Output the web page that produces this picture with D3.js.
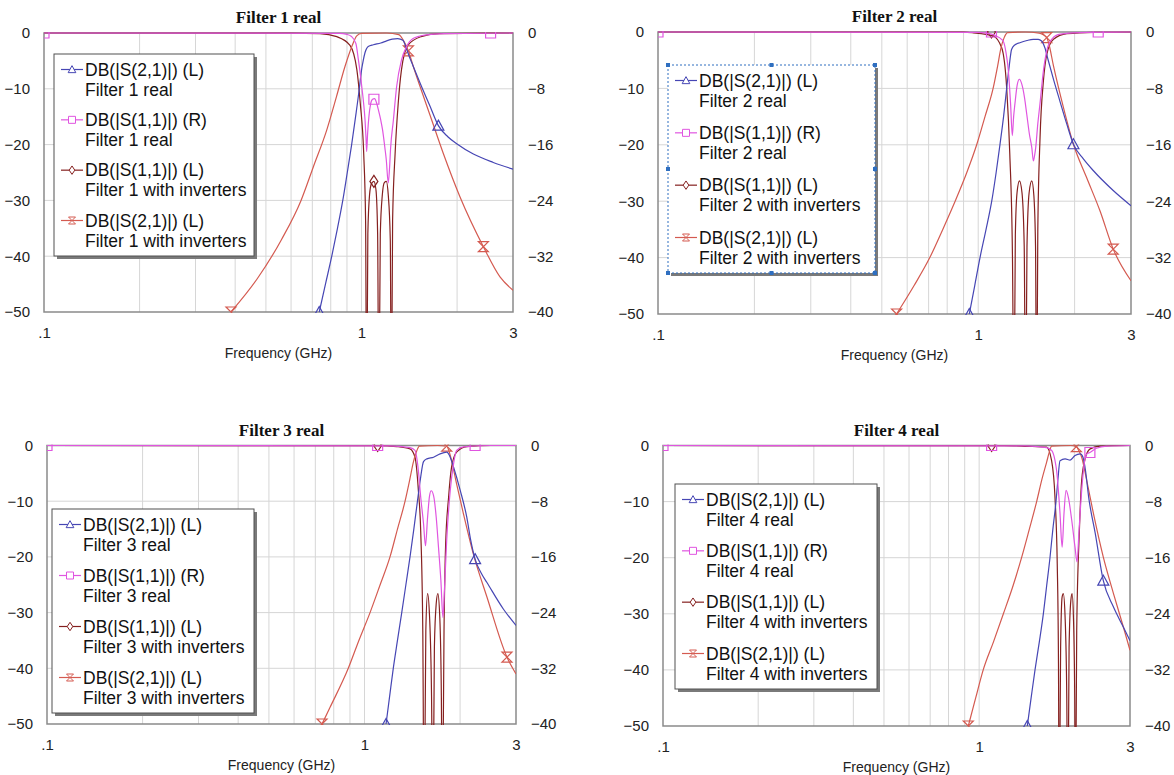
<!DOCTYPE html>
<html>
<head>
<meta charset="utf-8">
<script src="https://cdn.jsdelivr.net/npm/d3@7"></script>
<style>
  body { margin: 0; background: #fff; }
  svg { display: block; }
</style>
</head>
<body>
<svg id="chart" width="1174" height="775"></svg>
<script>
// axis ticks and labels
const xTickValues = [0.1, 1, 3];
const xTickLabels = [".1", "1", "3"];
const gridFreqs = [0.2, 0.3, 0.4, 0.5, 0.6, 0.7, 0.8, 0.9, 1, 2];
const yLeftTicks = [0, -10, -20, -30, -40, -50];
const yRightTicks = [0, -8, -16, -24, -32, -40];

const titles = ["Filter 1 real", "Filter 2 real", "Filter 3 real", "Filter 4 real"];
const legendMeasures = ["DB(|S(2,1)|) (L)", "DB(|S(1,1)|) (R)", "DB(|S(1,1)|) (L)", "DB(|S(2,1)|) (L)"];
const legendSources = ["real", "real", "with inverters", "with inverters"];

// ---- Filter 1 : [GHz, dB] ----
const f1S21Real = [[0.736,-50],[0.77,-45],[0.806,-40],[0.84,-35],[0.873,-30],[0.902,-25],[0.931,-20],[0.958,-15],[0.984,-10],[0.998,-7],[1.012,-5],[1.026,-3.5],[1.05,-2.4],[1.09,-2.1],[1.15,-1.8],[1.2,-1.4],[1.25,-1.1],[1.3,-1.0],[1.35,-1.3],[1.385,-2.8],[1.42,-4.5],[1.456,-6.0],[1.53,-9.0],[1.64,-13.0],[1.746,-16.6],[1.87,-18.6],[2.0,-19.9],[2.25,-21.7],[2.6,-23.2],[3.0,-24.4]];
const f1S11Real = [[0.1,0],[0.85,-0.05],[0.9,-0.2],[0.93,-0.5],[0.96,-1.5],[0.978,-3.9],[0.992,-6],[1.002,-7.7],[1.015,-10],[1.026,-12.5],[1.033,-15],[1.038,-17],[1.045,-14.5],[1.055,-12],[1.068,-10.2],[1.083,-9.5],[1.1,-9.4],[1.115,-10],[1.13,-11],[1.15,-12.5],[1.165,-13.9],[1.185,-16.5],[1.197,-18.2],[1.214,-21.5],[1.225,-19.5],[1.235,-16.5],[1.26,-12.5],[1.29,-7.7],[1.336,-3.9],[1.385,-2.0],[1.453,-0.8],[1.58,-0.3],[1.82,-0.1],[3.0,0]];
const f1S11Inv = [[0.1,0],[0.6,-0.02],[0.74,-0.1],[0.836,-0.66],[0.92,-2.2],[0.967,-6.6],[0.991,-12.6],[1.016,-21.6],[1.03,-33.5],[1.038,-70],[1.047,-36],[1.06,-29],[1.075,-27],[1.094,-26.6],[1.11,-28],[1.124,-36],[1.134,-70],[1.146,-36],[1.163,-29],[1.18,-26.8],[1.197,-26.6],[1.214,-29],[1.232,-37],[1.242,-70],[1.253,-33.5],[1.276,-21.6],[1.305,-12.6],[1.336,-6.6],[1.40,-2.2],[1.54,-0.66],[1.76,-0.1],[3.0,0]];
const f1S21Inv = [[0.388,-50],[0.47,-44],[0.56,-37],[0.645,-30],[0.705,-24],[0.777,-17.4],[0.834,-11.4],[0.887,-6],[0.931,-2.5],[0.966,-0.5],[1.0,-0.05],[1.2,0],[1.31,-0.3],[1.36,-1.5],[1.405,-3.2],[1.456,-6.0],[1.529,-9.6],[1.643,-14.7],[1.81,-21.6],[2.04,-29.3],[2.42,-38.3],[2.73,-43.7],[3.0,-46.1]];
const f1S21RealMarks = [[0.736,-50],[1.746,-16.6]];
const f1S11RealMarks = [[0.1,0],[1.094,-9.5],[2.55,0]];
const f1S11InvMarks = [[1.094,-26.6]];
const f1S21InvMarks = [[0.388,-50],[1.405,-3.2],[2.42,-38.3]];

// ---- Filter 2 ----
const f2S21Real = [[0.938,-50],[0.975,-45],[1.013,-40],[1.058,-35],[1.102,-30],[1.137,-25],[1.169,-20],[1.2,-15],[1.227,-10],[1.25,-6],[1.271,-3.1],[1.3,-2.3],[1.349,-1.9],[1.42,-1.5],[1.485,-1.3],[1.54,-1.3],[1.577,-1.6],[1.615,-2.8],[1.656,-5.1],[1.72,-8.5],[1.798,-12.2],[1.89,-16.3],[1.983,-19.9],[2.13,-22.5],[2.29,-24.6],[2.64,-28.1],[3.0,-30.8]];
const f2S11Real = [[0.1,0],[1.0,-0.05],[1.10,-0.3],[1.142,-0.6],[1.18,-1.0],[1.2,-1.4],[1.222,-3.0],[1.242,-5.5],[1.262,-10.2],[1.278,-14.7],[1.29,-12],[1.302,-10.2],[1.325,-7.4],[1.345,-6.7],[1.368,-7.4],[1.395,-9.3],[1.418,-11.7],[1.445,-14.5],[1.47,-16.4],[1.487,-18.3],[1.50,-17.5],[1.512,-16.4],[1.535,-13],[1.559,-10.2],[1.598,-5.5],[1.638,-2.6],[1.698,-1.0],[1.803,-0.3],[2.2,-0.05],[3.0,0]];
const f2S11Inv = [[0.1,0],[0.9,-0.03],[0.965,-0.15],[1.113,-0.7],[1.184,-2.8],[1.227,-9.9],[1.255,-21.7],[1.279,-39.4],[1.293,-70],[1.306,-36],[1.322,-28.5],[1.345,-26.4],[1.37,-28.5],[1.392,-38],[1.406,-70],[1.42,-38],[1.442,-28.5],[1.47,-26.4],[1.492,-29],[1.51,-38],[1.522,-70],[1.535,-35],[1.56,-18.7],[1.598,-8.7],[1.638,-3.9],[1.718,-1.3],[1.892,-0.3],[2.3,-0.05],[3.0,0]];
const f2S21Inv = [[0.556,-50],[0.63,-45],[0.706,-40],[0.775,-35],[0.847,-30],[0.92,-25],[0.989,-20],[1.05,-15],[1.113,-10],[1.15,-6],[1.176,-3],[1.205,-1],[1.235,-0.1],[1.4,0],[1.55,-0.2],[1.596,-0.5],[1.637,-1.0],[1.66,-2.0],[1.718,-6.0],[1.846,-13.4],[1.983,-19.9],[2.18,-25.8],[2.40,-31.7],[2.64,-38.5],[3.0,-44.1]];
const f2S21RealMarks = [[0.938,-50],[1.983,-19.9]];
const f2S11RealMarks = [[0.1,0],[1.10,0],[2.37,0]];
const f2S11InvMarks = [[1.10,0]];
const f2S21InvMarks = [[0.556,-50],[1.637,-1.0],[2.64,-38.5]];

// ---- Filter 3 ----
const f3S21Real = [[1.169,-50],[1.2,-45],[1.232,-40],[1.27,-35],[1.31,-30],[1.35,-25],[1.391,-20],[1.43,-15],[1.468,-10],[1.50,-6],[1.534,-2.9],[1.572,-2.4],[1.65,-2.1],[1.73,-1.5],[1.815,-1.2],[1.862,-2.1],[1.908,-3.9],[2.003,-8.1],[2.10,-12.9],[2.16,-17],[2.23,-20.4],[2.33,-22.9],[2.43,-24.6],[2.74,-29.4],[3.0,-32.3]];
const f3S11Real = [[0.1,0],[1.2,-0.05],[1.391,-0.3],[1.442,-0.7],[1.478,-3.6],[1.503,-7.4],[1.534,-11.2],[1.556,-14.4],[1.58,-10.3],[1.603,-7.2],[1.622,-6.5],[1.65,-7.2],[1.682,-10.3],[1.71,-14.6],[1.74,-19.4],[1.766,-24.7],[1.787,-20.4],[1.815,-13.6],[1.862,-6.5],[1.908,-2.6],[1.95,-0.7],[2.05,-0.2],[2.5,0],[3.0,0]];
const f3S11Inv = [[0.1,0],[1.1,-0.03],[1.263,-0.2],[1.391,-0.6],[1.442,-2.1],[1.478,-8.1],[1.503,-15.3],[1.526,-33.2],[1.541,-70],[1.56,-33.2],[1.58,-26.6],[1.603,-30.8],[1.626,-45],[1.642,-70],[1.66,-36.2],[1.682,-28.4],[1.702,-26.6],[1.726,-30.8],[1.746,-45],[1.758,-70],[1.78,-33.2],[1.80,-18.2],[1.84,-9.3],[1.88,-3.9],[1.95,-1.2],[2.10,-0.2],[2.5,0],[3.0,0]];
const f3S21Inv = [[0.735,-50],[0.779,-47],[0.889,-40],[0.96,-35],[1.041,-30],[1.12,-25],[1.203,-20],[1.27,-15],[1.342,-10],[1.39,-6],[1.425,-3],[1.46,-1],[1.489,-0.1],[1.7,0],[1.815,-0.1],[1.85,-1.2],[1.88,-2.7],[1.95,-6.9],[2.05,-12.3],[2.20,-19.4],[2.43,-27.2],[2.81,-38.0],[3.0,-41]];
const f3S21RealMarks = [[1.169,-50],[2.23,-20.4]];
const f3S11RealMarks = [[0.1,0],[1.10,0],[2.23,0]];
const f3S11InvMarks = [[1.10,0]];
const f3S21InvMarks = [[0.735,-50],[1.815,-0.1],[2.81,-38.0]];

// ---- Filter 4 ----
const f4S21Real = [[1.42,-50],[1.46,-45],[1.502,-40],[1.55,-35],[1.596,-30],[1.635,-25],[1.675,-20],[1.71,-15],[1.75,-10],[1.775,-6],[1.802,-2.7],[1.87,-2.4],[1.94,-2.6],[2.01,-1.8],[2.09,-1.5],[2.13,-2.1],[2.17,-4.5],[2.22,-9.2],[2.33,-15.7],[2.47,-24.1],[2.66,-28.8],[2.86,-32.4],[3.0,-34.8]];
const f4S11Real = [[0.1,0],[1.4,-0.05],[1.634,-0.3],[1.695,-0.7],[1.735,-2],[1.758,-3.6],[1.785,-7],[1.802,-9.7],[1.83,-14.5],[1.855,-9.7],[1.883,-6.4],[1.915,-7.4],[1.963,-10.7],[2.01,-14.5],[2.04,-16.6],[2.07,-12.1],[2.11,-6.4],[2.15,-2.6],[2.19,-1.2],[2.24,-1.0],[2.35,-0.4],[2.53,-0.1],[3.0,0]];
const f4S11Inv = [[0.1,0],[1.2,-0.03],[1.413,-0.15],[1.634,-0.3],[1.695,-2.7],[1.737,-9.2],[1.766,-21.1],[1.782,-38.9],[1.791,-70],[1.81,-36],[1.83,-27],[1.846,-26.4],[1.87,-30.6],[1.893,-45],[1.907,-70],[1.925,-36],[1.95,-27.6],[1.968,-26.4],[1.987,-30.6],[2.006,-45],[2.016,-70],[2.035,-33],[2.075,-15.2],[2.11,-6.2],[2.17,-2.1],[2.245,-0.6],[2.415,-0.1],[3.0,0]];
const f4S21Inv = [[0.924,-50],[0.975,-45],[1.03,-40],[1.11,-35],[1.193,-30],[1.28,-25],[1.362,-20],[1.44,-15],[1.52,-10],[1.58,-6],[1.634,-3],[1.67,-1],[1.695,-0.1],[1.95,0],[2.03,-0.2],[2.07,-1],[2.11,-2.1],[2.19,-6.3],[2.30,-12.2],[2.47,-19.9],[2.66,-26.4],[2.86,-32.4],[3.0,-36.5]];
const f4S21RealMarks = [[1.42,-50],[2.47,-24.1]];
const f4S11RealMarks = [[0.1,0],[1.095,0],[2.24,-1.0]];
const f4S11InvMarks = [[1.095,0]];
const f4S21InvMarks = [[0.924,-50],[2.03,-0.2]];

// legend order: S21 real, S11 real (right axis), S11 inverters, S21 inverters
const panelSeries = [
  [[f1S21Real, f1S21RealMarks], [f1S11Real, f1S11RealMarks], [f1S11Inv, f1S11InvMarks], [f1S21Inv, f1S21InvMarks]],
  [[f2S21Real, f2S21RealMarks], [f2S11Real, f2S11RealMarks], [f2S11Inv, f2S11InvMarks], [f2S21Inv, f2S21InvMarks]],
  [[f3S21Real, f3S21RealMarks], [f3S11Real, f3S11RealMarks], [f3S11Inv, f3S11InvMarks], [f3S21Inv, f3S21InvMarks]],
  [[f4S21Real, f4S21RealMarks], [f4S11Real, f4S11RealMarks], [f4S11Inv, f4S11InvMarks], [f4S21Inv, f4S21InvMarks]]
];

const styles = [
  {color: "#4646b4", sym: "tri", axis: "L"},
  {color: "#e055e0", sym: "sq", axis: "R"},
  {color: "#85201f", sym: "dia", axis: "L"},
  {color: "#d45a50", sym: "hour", axis: "L"}
];
const drawOrder = [2, 3, 0, 1];

const symbols = {
  tri: s => `M0,${-s*0.55}L${s*0.55},${s*0.45}L${-s*0.55},${s*0.45}Z`,
  sq: s => `M${-s/2},${-s/2}h${s}v${s}h${-s}Z`,
  dia: s => `M0,${-s*0.6}L${s*0.4},0L0,${s*0.6}L${-s*0.4},0Z`,
  hour: s => `M${-s/2},${-s/2}H${s/2}L${-s/2},${s/2}H${s/2}Z`
};

const layouts = [
  {x0: 44, x1: 513, y0: 33, y1: 312, leg: {x: 54, y: 54, w: 200, h: 202}},
  {x0: 658, x1: 1131, y0: 32, y1: 314, leg: {x: 668, y: 65, w: 207, h: 208}, selected: true},
  {x0: 47, x1: 516, y0: 445.5, y1: 724, leg: {x: 52, y: 509, w: 202, h: 204}},
  {x0: 663, x1: 1130, y0: 445.5, y1: 726, leg: {x: 675, y: 484, w: 202, h: 205}}
];

const sans = "'Liberation Sans', Arial, sans-serif";
const svg = d3.select("#chart");
svg.append("rect").attr("width", 1174).attr("height", 775).attr("fill", "#fff");

layouts.forEach((L, i) => {
  const x = d3.scaleLog().domain([0.1, 3]).range([L.x0, L.x1]);
  const yL = d3.scaleLinear().domain([-50, 0]).range([L.y1, L.y0]);
  const yR = d3.scaleLinear().domain([-40, 0]).range([L.y1, L.y0]);
  const g = svg.append("g");

  svg.append("clipPath").attr("id", "clip" + i).append("rect")
    .attr("x", L.x0).attr("y", L.y0 - 1)
    .attr("width", L.x1 - L.x0).attr("height", L.y1 - L.y0 + 2);

  // grid
  g.selectAll(".vg").data(gridFreqs).join("line")
    .attr("x1", d => x(d)).attr("x2", d => x(d))
    .attr("y1", L.y0).attr("y2", L.y1)
    .attr("stroke", "#d6d6d6").attr("stroke-width", 1);
  g.selectAll(".hg").data(yLeftTicks.slice(1, -1)).join("line")
    .attr("x1", L.x0).attr("x2", L.x1)
    .attr("y1", d => yL(d)).attr("y2", d => yL(d))
    .attr("stroke", "#d6d6d6").attr("stroke-width", 1);

  g.append("rect")
    .attr("x", L.x0).attr("y", L.y0)
    .attr("width", L.x1 - L.x0).attr("height", L.y1 - L.y0)
    .attr("fill", "none").attr("stroke", "#8a8a8a").attr("stroke-width", 1.5);

  // axes
  const styleAxis = a => {
    a.select(".domain").remove();
    a.selectAll("text").attr("font-size", 15).attr("font-family", sans).attr("fill", "#222");
  };
  g.append("g").attr("transform", `translate(${L.x0},0)`)
    .call(d3.axisLeft(yL).tickValues(yLeftTicks).tickSize(0).tickPadding(14))
    .call(styleAxis);
  g.append("g").attr("transform", `translate(${L.x1},0)`)
    .call(d3.axisRight(yR).tickValues(yRightTicks).tickSize(0).tickPadding(15))
    .call(styleAxis);
  g.append("g").attr("transform", `translate(0,${L.y1})`)
    .call(d3.axisBottom(x).tickValues(xTickValues).tickFormat((d, j) => xTickLabels[j]).tickSize(0).tickPadding(15))
    .call(styleAxis);

  g.append("text")
    .attr("x", (L.x0 + L.x1) / 2).attr("y", L.y1 + 46)
    .attr("text-anchor", "middle")
    .attr("font-family", sans).attr("font-size", 14).attr("fill", "#222")
    .text("Frequency (GHz)");

  g.append("text")
    .attr("x", (L.x0 + L.x1) / 2).attr("y", L.y0 - 10)
    .attr("text-anchor", "middle")
    .attr("font-family", "'Liberation Serif', 'Times New Roman', serif")
    .attr("font-weight", "bold").attr("font-size", 17).attr("fill", "#111")
    .text(titles[i]);

  // curves
  const plot = g.append("g").attr("clip-path", `url(#clip${i})`);
  drawOrder.forEach(k => {
    const st = styles[k];
    const y = st.axis === "R" ? yR : yL;
    const [data, marks] = panelSeries[i][k];
    const line = d3.line().x(d => x(d[0])).y(d => y(d[1])).curve(d3.curveMonotoneX);
    plot.append("path").datum(data)
      .attr("d", line)
      .attr("fill", "none").attr("stroke", st.color).attr("stroke-width", 1.2);
    plot.selectAll(null).data(marks).join("path")
      .attr("d", symbols[st.sym](10))
      .attr("transform", d => `translate(${x(d[0])},${y(d[1])})`)
      .attr("fill", "none").attr("stroke", st.color).attr("stroke-width", 1.2);
  });

  // legend
  const B = L.leg;
  const lg = g.append("g");
  lg.append("rect").attr("x", B.x + 3).attr("y", B.y + 3).attr("width", B.w).attr("height", B.h)
    .attr("fill", "#7a7a7a");
  lg.append("rect").attr("x", B.x).attr("y", B.y).attr("width", B.w).attr("height", B.h)
    .attr("fill", "#fff")
    .attr("stroke", L.selected ? "#2f6fc0" : "#505050")
    .attr("stroke-width", 1)
    .attr("stroke-dasharray", L.selected ? "2,2" : null);
  if (L.selected) {
    const hx = [B.x, B.x + B.w / 2, B.x + B.w];
    const hy = [B.y, B.y + B.h / 2, B.y + B.h];
    const handles = [];
    hx.forEach((px, a) => hy.forEach((py, b) => { if (!(a === 1 && b === 1)) handles.push([px, py]); }));
    lg.selectAll(".h").data(handles).join("rect")
      .attr("x", d => d[0] - 2).attr("y", d => d[1] - 2)
      .attr("width", 4).attr("height", 4).attr("fill", "#2f6fc0");
  }
  const rowGap = (B.h - 51) / 3;
  styles.forEach((st, k) => {
    const cy = B.y + 15.5 + k * rowGap;
    lg.append("line").attr("x1", B.x + 7).attr("x2", B.x + 29).attr("y1", cy).attr("y2", cy)
      .attr("stroke", st.color).attr("stroke-width", 1.2);
    lg.append("path").attr("d", symbols[st.sym](7))
      .attr("transform", `translate(${B.x + 18},${cy})`)
      .attr("fill", "#fff").attr("stroke", st.color).attr("stroke-width", 1);
    lg.append("text").attr("x", B.x + 31).attr("y", cy + 6)
      .attr("font-family", sans).attr("font-size", 17.5).attr("fill", "#111")
      .text(legendMeasures[k]);
    lg.append("text").attr("x", B.x + 31).attr("y", cy + 26)
      .attr("font-family", sans).attr("font-size", 17.5).attr("fill", "#111")
      .text(`Filter ${i + 1} ${legendSources[k]}`);
  });
});
</script>
</body>
</html>
